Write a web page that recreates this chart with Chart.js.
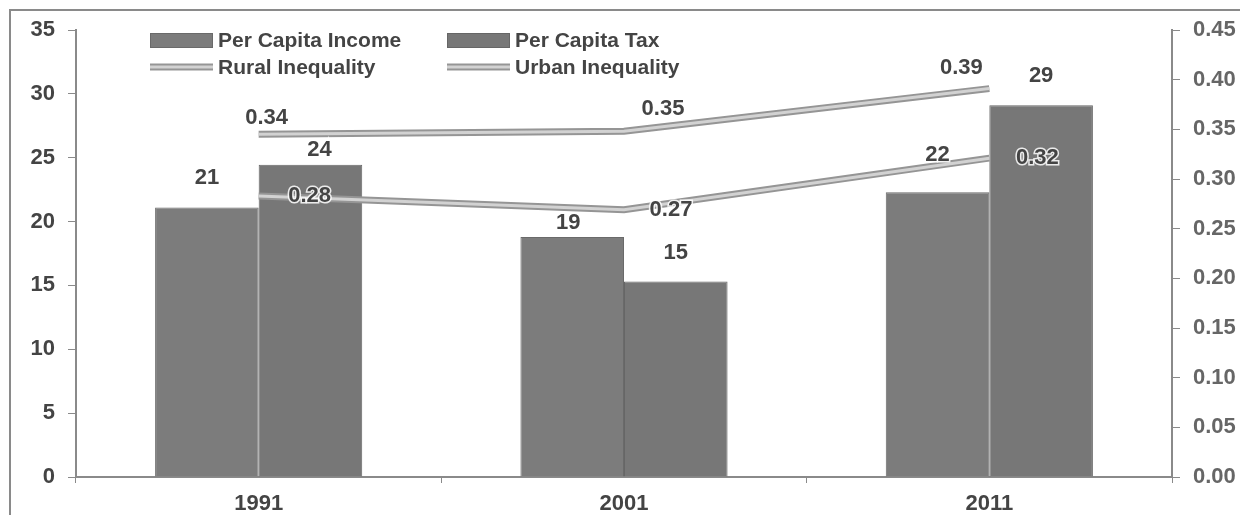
<!DOCTYPE html>
<html>
<head>
<meta charset="utf-8">
<script src="https://cdn.jsdelivr.net/npm/chart.js@4/dist/chart.umd.min.js"></script>
<style>
  html, body { margin: 0; padding: 0; background: #fff; }
  #wrap { width: 1240px; height: 515px; position: relative; }
</style>
</head>
<body>
<div id="wrap"><canvas id="chart" width="1240" height="515"></canvas></div>
<script>
// values
const years = ['1991', '2001', '2011'];
const perCapitaIncome = [21.1, 18.8, 22.3];
const perCapitaTax = [24.45, 15.3, 29.1];
const ruralInequality = [0.283, 0.269, 0.321];
const urbanInequality = [0.345, 0.348, 0.391];
const leftTicks = [0, 5, 10, 15, 20, 25, 30, 35];
const rightTicks = [0, 0.05, 0.1, 0.15, 0.2, 0.25, 0.3, 0.35, 0.4, 0.45];

const FONT = 'Liberation Sans, Arial, sans-serif';
const TEXT = '#444';
const AXIS = '#8a8a8a';

// label nudges, like hand-moved Excel labels [dx, dy] from the point / bar top
const nudges = {
  0: [[0, -30], [-4, -14], [0, -37]],
  1: [[9, -15], [0, -29], [0, -29]],
  2: [[51, 0], [47, 0], [48, 0]],
  3: [[8, -16], [39, -22], [-28, -21]]
};

const framePlugin = {
  id: 'frame',
  beforeDraw(chart) {
    const c = chart.ctx;
    c.save();
    c.fillStyle = '#fff';
    c.fillRect(0, 0, chart.width, chart.height);
    c.strokeStyle = AXIS;
    c.lineWidth = 2;
    c.beginPath();
    c.moveTo(10, chart.height + 5);
    c.lineTo(10, 10);
    c.lineTo(chart.width + 5, 10);
    c.stroke();
    c.restore();
  }
};

const labelPlugin = {
  id: 'labels',
  afterDatasetsDraw(chart) {
    const c = chart.ctx;
    c.save();
    // light core of the lines
    chart.data.datasets.forEach((ds, i) => {
      if (ds.type !== 'line') return;
      const pts = chart.getDatasetMeta(i).data;
      c.strokeStyle = '#d2d2d2';
      c.lineWidth = 3;
      c.beginPath();
      pts.forEach((p, j) => j ? c.lineTo(p.x, p.y) : c.moveTo(p.x, p.y));
      c.stroke();
    });
    c.font = 'bold 22px ' + FONT;
    c.textAlign = 'center';
    c.textBaseline = 'middle';
    chart.data.datasets.forEach((ds, i) => {
      const pts = chart.getDatasetMeta(i).data;
      pts.forEach((p, j) => {
        const v = ds.data[j];
        const txt = ds.type === 'line' ? v.toFixed(2) : v.toFixed(0);
        const [dx, dy] = nudges[i][j];
        c.lineWidth = 3;
        c.strokeStyle = 'rgba(255,255,255,0.85)';
        c.strokeText(txt, p.x + dx, p.y + dy);
        c.fillStyle = TEXT;
        c.fillText(txt, p.x + dx, p.y + dy);
      });
    });
    c.restore();
  },
  afterDraw(chart) {
    // legend inside the plot, two columns
    const c = chart.ctx;
    const spots = [[150, 40], [447, 40], [150, 67], [447, 67]];
    c.save();
    c.font = 'bold 21px ' + FONT;
    c.textAlign = 'left';
    c.textBaseline = 'middle';
    chart.data.datasets.forEach((ds, i) => {
      const [x, y] = spots[i];
      if (ds.type === 'line') {
        c.strokeStyle = ds.borderColor;
        c.lineWidth = 7;
        c.beginPath(); c.moveTo(x, y); c.lineTo(x + 63, y); c.stroke();
        c.strokeStyle = '#d2d2d2';
        c.lineWidth = 3;
        c.beginPath(); c.moveTo(x, y); c.lineTo(x + 63, y); c.stroke();
      } else {
        c.fillStyle = ds.backgroundColor;
        c.fillRect(x, y - 7, 63, 15);
        c.strokeStyle = ds.borderColor;
        c.lineWidth = 1;
        c.strokeRect(x + 0.5, y - 6.5, 62, 14);
      }
      c.fillStyle = TEXT;
      c.fillText(ds.label, x + 68, y + 1);
    });
    c.restore();
  }
};

new Chart(document.getElementById('chart'), {
  data: {
    labels: years,
    datasets: [
      { type: 'bar', label: 'Per Capita Income', data: perCapitaIncome, yAxisID: 'y',
        backgroundColor: '#7c7c7c', borderColor: '#6a6a6a', borderWidth: 1, order: 2 },
      { type: 'bar', label: 'Per Capita Tax', data: perCapitaTax, yAxisID: 'y',
        backgroundColor: '#777777', borderColor: '#666666', borderWidth: 1, order: 2 },
      { type: 'line', label: 'Rural Inequality', data: ruralInequality, yAxisID: 'y2',
        borderColor: '#959595', borderWidth: 7, pointRadius: 0, tension: 0, order: 1 },
      { type: 'line', label: 'Urban Inequality', data: urbanInequality, yAxisID: 'y2',
        borderColor: '#959595', borderWidth: 7, pointRadius: 0, tension: 0, order: 1 }
    ]
  },
  options: {
    responsive: false,
    animation: false,
    layout: { padding: { top: 30, left: 0, right: 0, bottom: 0 } },
    datasets: { bar: { categoryPercentage: 0.567, barPercentage: 1 } },
    plugins: { legend: { display: false }, tooltip: { enabled: false } },
    scales: {
      x: {
        offset: true,
        grid: { display: true, drawOnChartArea: false, drawTicks: true, tickLength: 6, color: AXIS, offset: true },
        border: { display: true, color: AXIS, width: 2 },
        ticks: { color: TEXT, font: { family: FONT, size: 22, weight: 'bold' }, padding: 8 },
        afterFit: s => { s.height = 38; }
      },
      y: {
        position: 'left',
        min: 0, max: 35,
        afterBuildTicks: s => { s.ticks = leftTicks.map(v => ({ value: v })); },
        grid: { display: true, drawOnChartArea: false, drawTicks: true, tickLength: 8, color: AXIS },
        border: { display: true, color: AXIS, width: 2 },
        ticks: { color: TEXT, font: { family: FONT, size: 22, weight: 'bold' }, padding: 13 },
        afterFit: s => { s.width = 76; }
      },
      y2: {
        position: 'right',
        min: 0, max: 0.45,
        afterBuildTicks: s => { s.ticks = rightTicks.map(v => ({ value: v })); },
        grid: { display: true, drawOnChartArea: false, drawTicks: true, tickLength: 8, color: AXIS },
        border: { display: true, color: AXIS, width: 2 },
        ticks: { color: '#666', font: { family: FONT, size: 22, weight: 'bold' }, padding: 13,
                 callback: v => Number(v).toFixed(2) },
        afterFit: s => { s.width = 68; }
      }
    }
  },
  plugins: [framePlugin, labelPlugin]
});
</script>
</body>
</html>
